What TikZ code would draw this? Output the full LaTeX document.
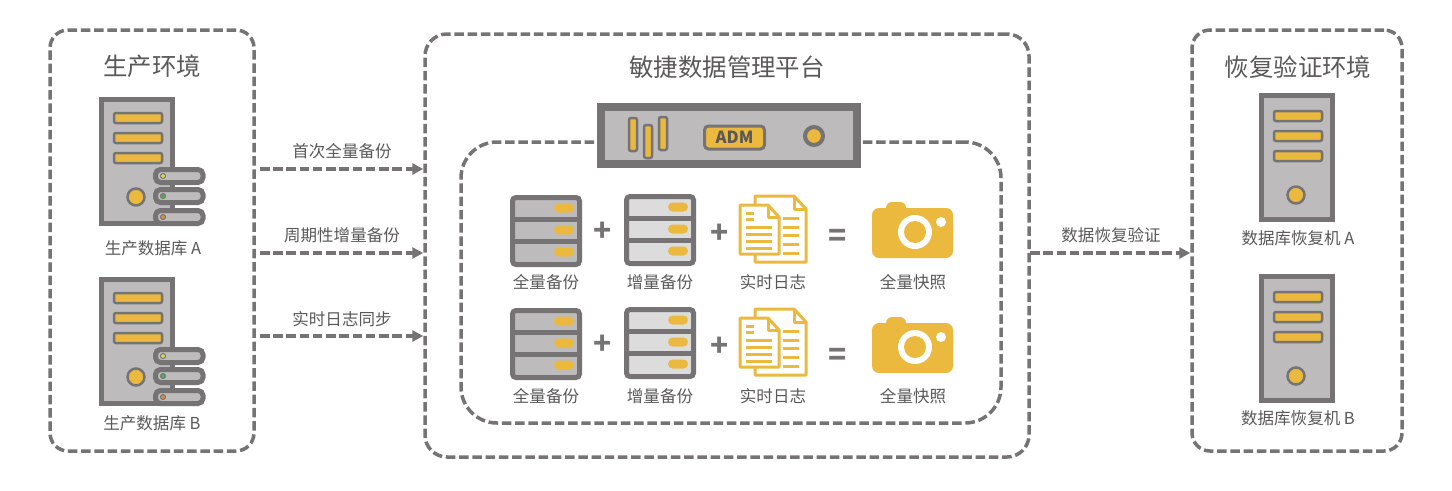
\documentclass[tikz,border=0pt]{standalone}
\usepackage{fontspec}
\setmainfont{Noto Sans CJK SC}
\usetikzlibrary{fit, arrows.meta}

\definecolor{edgegray}{HTML}{757373}
\definecolor{bodygray}{HTML}{BDBBBC}
\definecolor{lightgray}{HTML}{DCDCDC}
\definecolor{gold}{HTML}{ECB93F}
\definecolor{textgray}{HTML}{5A5859}

\tikzset{
  panel/.style={draw=edgegray, line width=0.07cm, dash pattern=on 0.19cm off 0.075cm, rounded corners=#1, inner sep=0pt},
  flow/.style={draw=edgegray, line width=0.07cm, dash pattern=on 0.19cm off 0.075cm, -{Triangle[length=0.22cm,width=0.22cm]}},
  title/.style={text=textgray, font=\fontsize{13.9}{15}\selectfont},
  label/.style={text=textgray, font=\fontsize{9.4}{10}\selectfont},
  sign/.style={text=edgegray, font=\fontsize{17}{17}\selectfont\bfseries},
  slot/.style={draw=edgegray, fill=gold, line width=0.05cm, rounded corners=0.04cm},
  pics/tower/.style={code={
    \draw[edgegray, fill=bodygray, line width=0.1cm] (2.5,2.5) rectangle (73.5,126);
    \foreach \yy in {16,36,56}
      \draw[slot] (15,\yy+#1) rectangle (63,\yy+10+#1);
    \draw[edgegray, fill=gold, line width=0.05cm] (37,100+#1) circle (8.5);
  }},
  pics/hoststack/.style={code={
    \foreach \yy/\led in {70/yellow!70!gray!90, 90/green!35!gray, 111/orange!70!gray!90}{
      \draw[edgegray, fill=bodygray, line width=0.1cm, rounded corners=0.1cm] (56.5,\yy+2.5) rectangle (104,\yy+15.5);
      \draw[edgegray, fill=\led, line width=0.02cm] (64,\yy+9) circle (2.5);
    }
  }},
  pics/rack/.style={code={
    \draw[edgegray, fill=#1, line width=0.1cm, rounded corners=0.07cm] (2.5,2.5) rectangle (69.5,69.5);
    \draw[edgegray, line width=0.1cm] (2.5,24.5) -- (69.5,24.5) (2.5,46.5) -- (69.5,46.5);
    \foreach \yy in {13,35,57}
      \fill[gold, rounded corners=0.09cm] (44,\yy-4.5) rectangle (64,\yy+4.5);
  }},
  pics/logfile/.style={code={
    % sheet behind
    \draw[gold, fill=white, line width=0.06cm, line join=round] (16,1) -- (55,1) -- (67,14) -- (67,67) -- (16,67) -- cycle;
    \draw[gold, line width=0.06cm, line join=round] (55,1) -- (55,14) -- (67,14);
    \foreach \yy in {23,32,40,49,58}
      \draw[gold, line width=0.06cm] (44,\yy) -- (60,\yy);
    % sheet in front
    \draw[gold, fill=white, line width=0.06cm, line join=round] (1,10) -- (29,10) -- (40,22) -- (40,59) -- (1,59) -- cycle;
    \draw[gold, line width=0.06cm, line join=round] (29,10) -- (29,22) -- (40,22);
    \draw[gold, line width=0.06cm] (7,18) -- (15,18) (7,24) -- (15,24);
    \foreach \yy in {32,39,46,53}
      \draw[gold, line width=0.06cm] (7,\yy) -- (33,\yy);
  }},
  pics/snapshot/.style={code={
    \fill[gold, rounded corners=0.14cm] (0,6) rectangle (81,56);
    \fill[gold, rounded corners=0.12cm] (14,0) rectangle (34,12);
    \fill[white] (43,30) circle (17);
    \fill[gold] (43,30) circle (11);
    \fill[white] (69,20) circle (5);
  }}
}

\begin{document}
\begin{tikzpicture}[x=0.02cm, y=-0.02cm]
\useasboundingbox (0,0) rectangle (1452,490);

% the three environments
\node[panel=0.36cm, fit={(50,30) (254,451)}] (prod) {};
\node[panel=0.44cm, fit={(425,34) (1029,457)}] (adm) {};
\node[panel=0.36cm, fit={(1192,30) (1402,451)}] (verify) {};
\node[panel=0.72cm, fit={(461,142) (1001,423)}] (inner) {};

\node[title] (prodtitle) at (152,66) {生产环境};
\node[title] (admtitle) at (727,67) {敏捷数据管理平台};
\node[title] (verifytitle) at (1298,67) {恢复验证环境};

% source hosts
\pic at (99,97) {tower=0};
\pic at (99,97) {hoststack};
\pic at (99,277) {tower=0};
\pic at (99,277) {hoststack};
\node[label] (hosta) at (153,248) {生产数据库 A};
\node[label] (hostb) at (152,423) {生产数据库 B};

% restore hosts
\pic at (1259,93) {tower=2};
\pic at (1259,274) {tower=2};
\node[label] (resta) at (1298,238) {数据库恢复机 A};
\node[label] (restb) at (1298,418) {数据库恢复机 B};

% appliance
\draw[edgegray, fill=bodygray, line width=0.16cm] (601,107) rectangle (857,164);
\draw[slot] (629,118) rectangle (637,151);
\draw[slot] (644,125) rectangle (652,158);
\draw[slot] (659,117) rectangle (667,150);
\node[draw=edgegray, fill=gold, line width=0.06cm, rounded corners=0.08cm, text=textgray,
  minimum width=1.2cm, minimum height=0.46cm, inner sep=0pt, font=\fontsize{9.5}{10}\selectfont\bfseries] (admtag) at (734.5,137.5) {ADM};
\draw[edgegray, fill=gold, line width=0.08cm] (814,136) circle (9);

% backup rows
\foreach \dy/\row in {0/a,113/b}{
  \pic at (510,195+\dy) {rack=bodygray};
  \pic at (624,194+\dy) {rack=lightgray};
  \pic at (739,195+\dy) {logfile};
  \pic at (872,202+\dy+\dy/56) {snapshot};
  \node[sign] (plus1\row) at (603,232+\dy) {+};
  \node[sign] (plus2\row) at (720,234+\dy) {+};
  \node[sign] (equal\row) at (838,238+\dy+\dy/19) {=};
  \node[label] (full\row) at (546,282+\dy+\dy/113) {全量备份};
  \node[label] (incr\row) at (660,282+\dy+\dy/113) {增量备份};
  \node[label] (log\row) at (773,282+\dy+\dy/113) {实时日志};
  \node[label] (snap\row) at (913,282+\dy+\dy/113) {全量快照};
}

% connectors
\coordinate (firstout) at (260,169);
\coordinate (cycleout) at (260,253);
\coordinate (logout) at (260,336);
\coordinate (checkout) at (1030,253);
\draw[flow] (firstout) -- (firstout -| adm.west);
\draw[flow] (cycleout) -- (cycleout -| adm.west);
\draw[flow] (logout) -- (logout -| adm.west);
\draw[flow] (checkout) -- (checkout -| verify.west);
\node[label] (firstlabel) at (342,151) {首次全量备份};
\node[label] (cyclelabel) at (342,235) {周期性增量备份};
\node[label] (loglabel) at (342,319) {实时日志同步};
\node[label] (checklabel) at (1111,235) {数据恢复验证};
\end{tikzpicture}
\end{document}
